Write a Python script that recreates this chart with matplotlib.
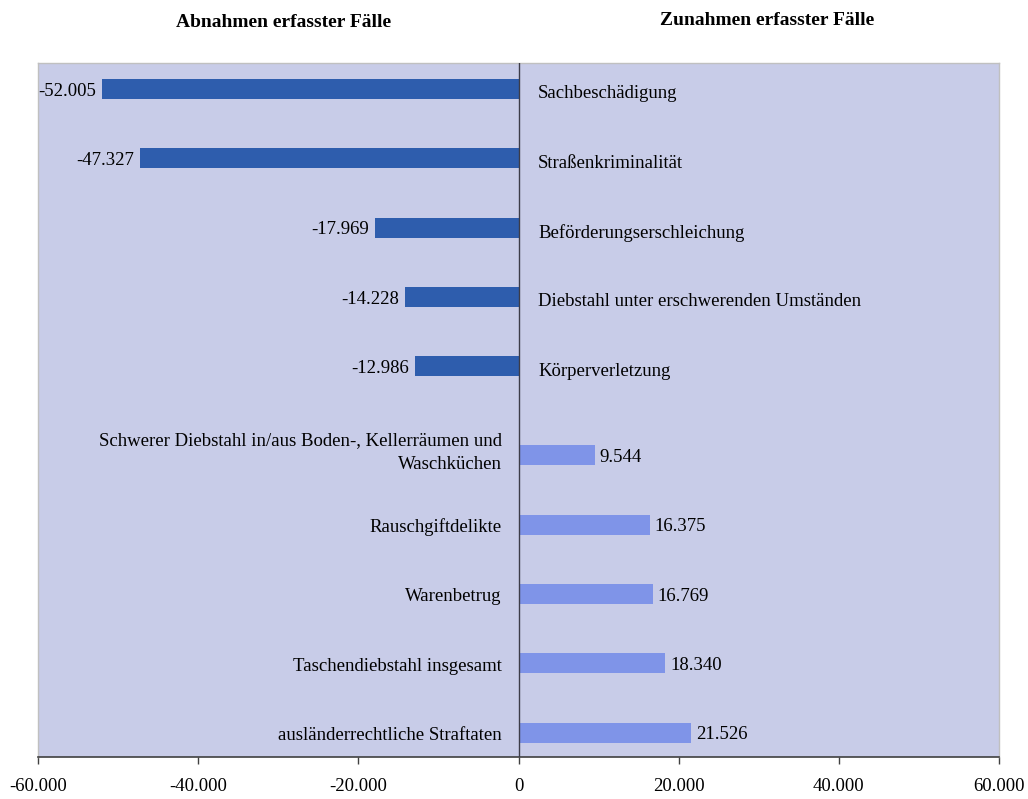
import numpy as np
import matplotlib
matplotlib.use("Agg")
import matplotlib.pyplot as plt
from matplotlib.ticker import FuncFormatter

plt.rcParams["font.family"] = ["Liberation Serif", "DejaVu Serif"]

# Daten
neg_labels = ["Sachbeschädigung", "Straßenkriminalität", "Beförderungserschleichung",
              "Diebstahl unter erschwerenden Umständen", "Körperverletzung"]
neg_values = [-52005, -47327, -17969, -14228, -12986]

pos_labels = ["Schwerer Diebstahl in/aus Boden-, Kellerräumen und\nWaschküchen",
              "Rauschgiftdelikte", "Warenbetrug", "Taschendiebstahl insgesamt",
              "ausländerrechtliche Straftaten"]
pos_values = [9544, 16375, 16769, 18340, 21526]

xticks = [-60000, -40000, -20000, 0, 20000, 40000, 60000]


def de_fmt(v, pos=None):
    return f"{int(round(v)):,}".replace(",", ".")


BG = "#C8CCE8"
DARK = "#2E5DAD"
LIGHT = "#7F94E8"
FS = 13.5

fig = plt.figure(figsize=(10.28, 7.99), dpi=100)
ax = fig.add_axes([0.037, 0.0526, 0.9348, 0.8686])
ax.set_facecolor(BG)

# Positionen: zweite Gruppe etwas abgesetzt
gap = 1.28
y_neg = np.arange(len(neg_values))
y_pos = np.arange(len(pos_values)) + len(neg_values) - 1 + gap

h = 0.29
ax.barh(y_neg, neg_values, height=h, color=DARK, zorder=2)
ax.barh(y_pos, pos_values, height=h, color=LIGHT, zorder=2)

ax.axvline(0, color="#3c3c48", lw=1.0, zorder=3)

for y, v, lab in zip(y_neg, neg_values, neg_labels):
    ax.annotate(de_fmt(v), (v, y), xytext=(-4, -1.5), textcoords="offset points",
                ha="right", va="center", fontsize=FS)
    ax.annotate(lab, (0, y), xytext=(14, -3.5), textcoords="offset points",
                ha="left", va="center", fontsize=FS)

for i, (y, v, lab) in enumerate(zip(y_pos, pos_values, pos_labels)):
    ax.annotate(de_fmt(v), (v, y), xytext=(3.5, -1.5), textcoords="offset points",
                ha="left", va="center", fontsize=FS)
    dy = 2 if "\n" in lab else -2
    ax.annotate(lab, (0, y), xytext=(-12, dy), textcoords="offset points",
                ha="right", va="center", fontsize=FS, multialignment="right",
                linespacing=1.5)

ax.set_xlim(-60000, 60000)
ax.set_ylim(y_pos[-1] + 0.35, -0.375)
ax.set_xticks(xticks)
ax.xaxis.set_major_formatter(FuncFormatter(de_fmt))
ax.tick_params(axis="x", direction="out", length=5, width=1, color="#404040",
               labelsize=FS, pad=10)
ax.set_yticks([])

for side in ["top", "left", "right"]:
    ax.spines[side].set_color("#c0c0c0")
    ax.spines[side].set_linewidth(1)
ax.spines["bottom"].set_color("#404040")
ax.spines["bottom"].set_linewidth(1.2)

fig.text(0.276, 0.972, "Abnahmen erfasster Fälle", ha="center", va="center",
         fontsize=14, fontweight="bold")
fig.text(0.746, 0.974, "Zunahmen erfasster Fälle", ha="center", va="center",
         fontsize=14, fontweight="bold")

fig.savefig("out.png", dpi=100)
